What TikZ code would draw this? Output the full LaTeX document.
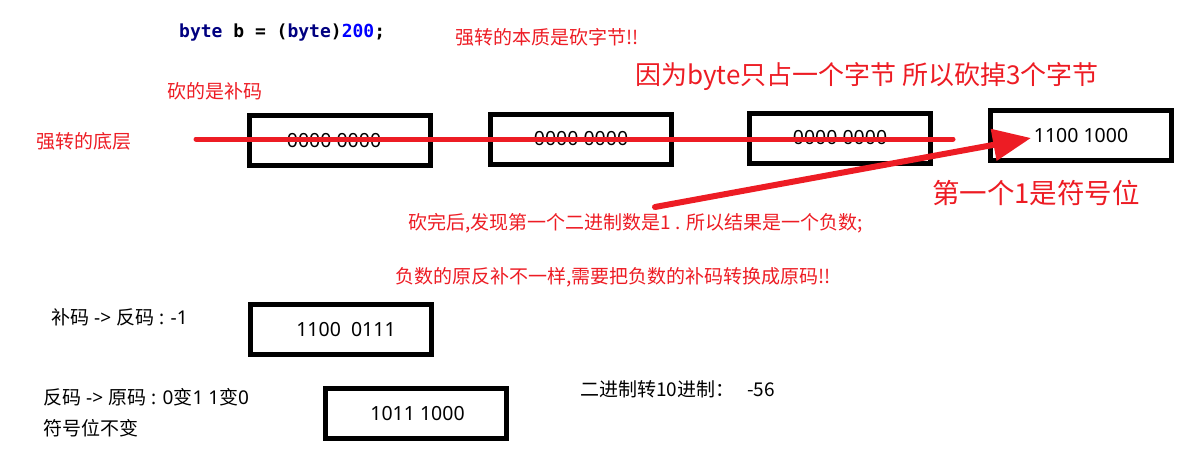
\documentclass[tikz,border=0pt]{standalone}
\usepackage{fontspec}
\newfontfamily\cjk{Noto Sans CJK SC}
\newfontfamily\latfont{Noto Sans}
\newfontfamily\codefont{DejaVu Sans Mono}
\newcommand{\zh}[1]{{\cjk #1}}
\usepackage{tikz}
\usetikzlibrary{arrows.meta, positioning}
\definecolor{paintred}{HTML}{ED1C24}
\definecolor{kwnavy}{HTML}{000080}
\definecolor{numblue}{HTML}{0000FF}

\tikzset{
  bytebox/.style={draw, line width=5pt, minimum width=181pt,
    minimum height=50pt, inner sep=0pt,
    font=\latfont\fontsize{19.5}{24}\selectfont},
  note/.style={anchor=west, inner sep=0pt,
    font=\cjk\fontsize{19}{23}\selectfont},
  latnote/.style={note, font=\latfont\fontsize{19}{23}\selectfont},
  rednote/.style={note, text=paintred},
  bignote/.style={rednote, font=\cjk\fontsize{26}{30}\selectfont},
  cutline/.style={draw=paintred, line width=5pt, line cap=round},
  signarrow/.style={draw=paintred, line width=6pt, line cap=round,
    -{Triangle[length=38pt, width=31pt]}}
}

\begin{document}
\begin{tikzpicture}[x=1pt, y=-1pt]
  \useasboundingbox (0,0) rectangle (1201,471);

  % code line and headline notes
  \node[note, font=\codefont\bfseries\fontsize{18}{22}\selectfont] (code) at (179,33)
    {\textcolor{kwnavy}{byte} b = (\textcolor{kwnavy}{byte})\textcolor{numblue}{200};};
  \node[rednote] (essence) at (455,37) {强转的本质是砍字节!!};
  \node[bignote] (reason) at (635,77) {因为byte只占一个字节 所以砍掉3个字节};
  \node[rednote] (cutcomp) at (167,91) {砍的是补码};
  \node[rednote] (bottom) at (36,141) {强转的底层};

  % the four bytes of the int
  \node[bytebox] (b1) at (340,140.5) {\raisebox{-4pt}{0000 0000\hspace{12pt}}};
  \node[bytebox] (b2) at (581,139) {0000 0000\hspace{12pt}};
  \node[bytebox] (b3) at (840,138) {0000 0000\hspace{8pt}};
  \node[bytebox] (b4) at (1081,135.5) {1100 1000};

  \node[bignote, font=\cjk\fontsize{27.5}{31}\selectfont] (signbit) at (932,193) {第一个1是符号位};
  \node[rednote] (found) at (408,223) {砍完后,发现第一个二进制数是1 . 所以结果是一个负数;};
  \node[rednote] (differ) at (395,277) {负数的原反补不一样,需要把负数的补码转换成原码!!};

  % back to the original code
  \node[latnote] (step1) at (51,317) {\zh{补码}\ -> \zh{反码}\ : -1};
  \node[bytebox] (b5) at (341,329.5) {\hspace{10pt}1100\ \ 0111};
  \node[latnote] (step2) at (43,397) {\zh{反码}\ -> \zh{原码}\ : 0\zh{变}1\ 1\zh{变}0};
  \node[note] (step2b) at (43,428) {符号位不变};
  \node[bytebox] (b6) at (415.5,413.5) {\hspace{4pt}1011 1000};
  \node[note] (result) at (580,389) {二进制转10进制：\ \ \ -56};

  % strike line and sign arrow
  \coordinate (cutstart) at (196,139);
  \coordinate (cutend) at (953,139);
  \coordinate (signtail) at (655,207);
  \draw[cutline] (cutstart) -- (cutend);
  \draw[signarrow] (signtail) -- ([xshift=43pt, yshift=-2.5pt]b4.west);
\end{tikzpicture}
\end{document}
